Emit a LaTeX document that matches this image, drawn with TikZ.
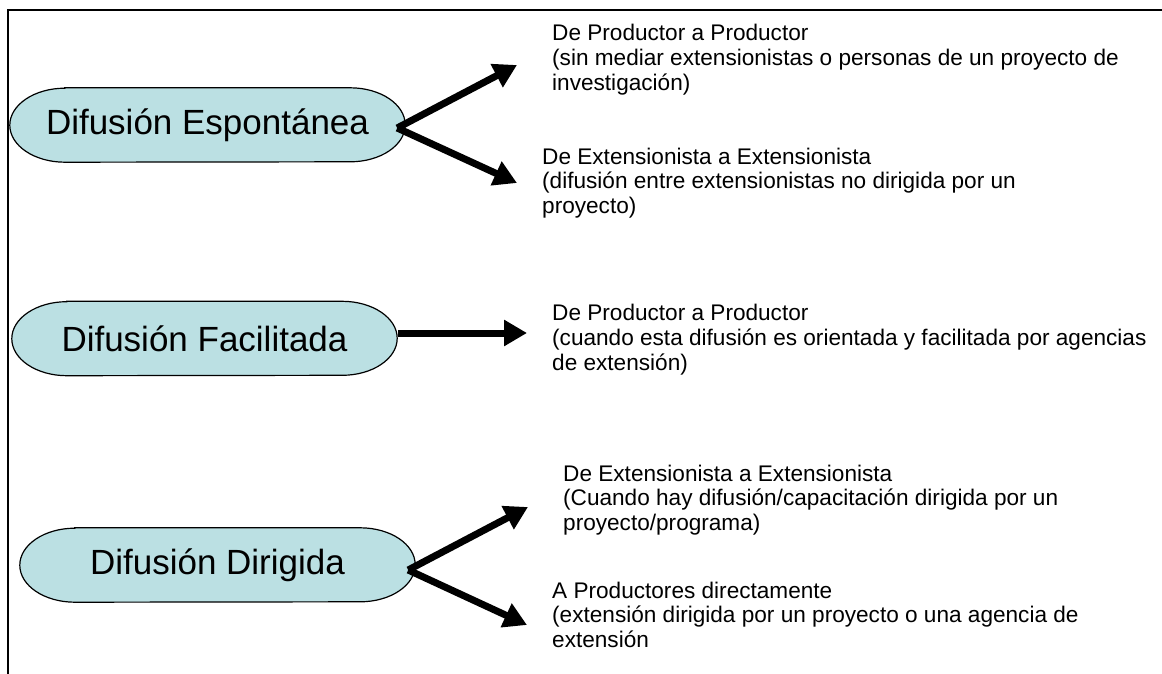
\documentclass[tikz,border=0pt]{standalone}
\usepackage{fontspec}
\setmainfont{Liberation Sans}
\usepackage{xcolor}
\usepackage{tikz}
\usetikzlibrary{calc,arrows.meta,backgrounds}
\definecolor{difcyan}{RGB}{187,224,227}
\newcommand{\capsula}[1]{%
    \draw [black, line width=1.2pt, fill=difcyan]
        ([xshift=55pt]#1.north west) -- ([xshift=-55pt]#1.north east)
        arc[start angle=90, end angle=-90, x radius=55pt, y radius=37pt]
        -- ([xshift=55pt]#1.south west)
        arc[start angle=270, end angle=90, x radius=55pt, y radius=37pt] -- cycle;}

\begin{document}
\begin{tikzpicture}[x=1pt, y=-1pt]
                \tikzstyle{tipo}=[inner sep=0pt, minimum height=74pt, font=\fontsize{35pt}{42pt}\selectfont]
                \tikzstyle{nota}=[inner sep=0pt, anchor=base west, align=left, font=\fontsize{22.6pt}{24.8pt}\selectfont]
                \tikzstyle{flecha}=[black, line width=7pt, -{Triangle[length=23pt, width=25pt]}]
                \useasboundingbox (0,0) rectangle (1162,674);
                \draw [black, line width=1.8pt] (8,674) -- (8,10) -- (1162,10);
                \node [tipo, minimum width=395pt] (espontanea) at (207.5,125) {Difusión Espontánea};
                \node [tipo, minimum width=385pt] (facilitada) at (204.5,338.5) {Difusión Facilitada};
                \node [tipo, minimum width=395pt] (dirigida) at (217.5,565) {Difusión Dirigida};
                \begin{scope}[on background layer]
                    \capsula{espontanea}
                    \capsula{facilitada}
                    \capsula{dirigida}
                \end{scope}
                \node [nota] (prodprod) at (552,90.6) {De Productor a Productor\\(sin mediar extensionistas o personas de un proyecto de\\investigación)};
                \node [nota] (extext) at (542,213.6) {De Extensionista a Extensionista\\(difusión entre extensionistas no dirigida por un\\proyecto)};
                \node [nota] (facprod) at (552,370) {De Productor a Productor\\(cuando esta difusión es orientada y facilitada por agencias\\de extensión)};
                \node [nota] (dirext) at (563,530.6) {De Extensionista a Extensionista\\(Cuando hay difusión/capacitación dirigida por un\\proyecto/programa)};
                \node [nota] (dirprod) at (552,647.6) {A Productores directamente\\(extensión dirigida por un proyecto o una agencia de\\extensión};
                \coordinate (espsal) at ([xshift=-8pt, yshift=-3pt]espontanea.east);
                \coordinate (facsal) at ([xshift=1pt, yshift=5.5pt]facilitada.east);
                \coordinate (dirsal) at ([xshift=-7pt, yshift=-5pt]dirigida.east);
                \coordinate (puntaa) at (517,65);
                \coordinate (puntab) at (517,183);
                \coordinate (puntac) at (527,333);
                \coordinate (puntad) at (528,507);
                \coordinate (puntae) at (527,625);
                \draw [flecha] (espsal) -- (puntaa);
                \draw [flecha] (espsal) -- (puntab);
                \draw [flecha] (facsal) -- (puntac);
                \draw [flecha] (dirsal) -- (puntad);
                \draw [flecha] (dirsal) -- (puntae);
\end{tikzpicture}
\end{document}
